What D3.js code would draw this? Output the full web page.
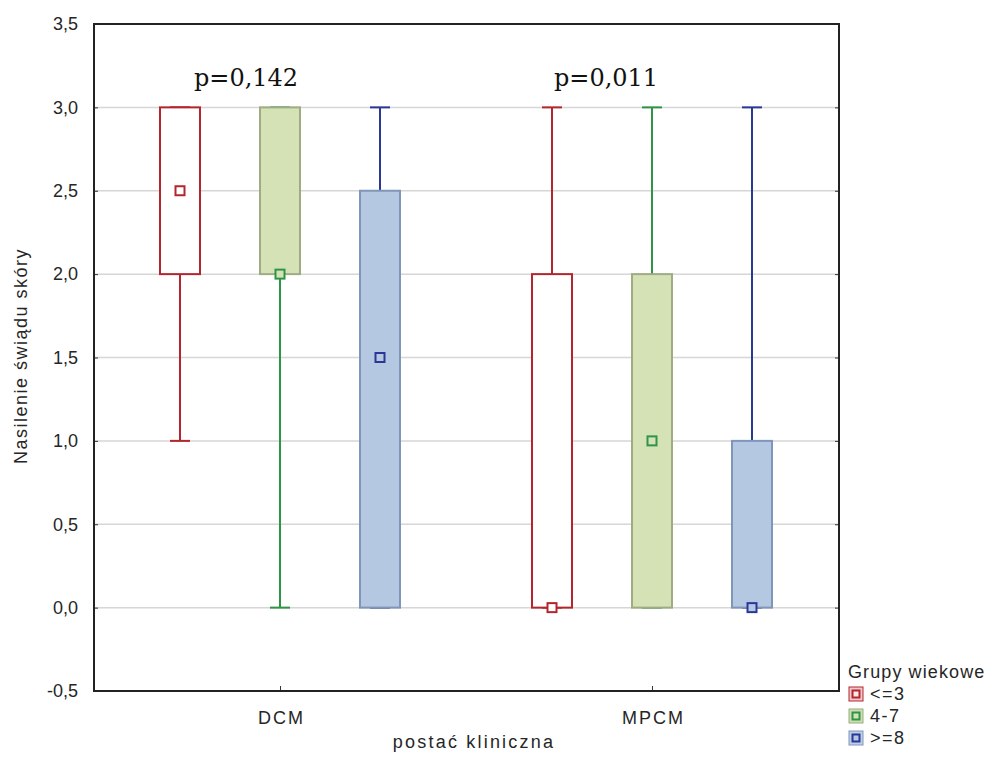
<!DOCTYPE html>
<html><head><meta charset="utf-8">
<script src="https://cdn.jsdelivr.net/npm/d3@7"></script>
<style>body{margin:0;background:#fff}svg{display:block}</style>
</head><body><svg id="c" width="986" height="760"></svg>
<script>
const categories = ["DCM", "MPCM"];
const groups = ["<=3", "4-7", ">=8"];
// per category, per group: [whiskerLow, boxLow, median, boxHigh, whiskerHigh]
const dcmStats = [[1, 2, 2.5, 3, 3], [0, 2, 2, 3, 3], [0, 0, 1.5, 2.5, 3]];
const mpcmStats = [[0, 0, 0, 2, 3], [0, 0, 1, 2, 3], [0, 0, 0, 1, 3]];
const pValues = ["p=0,142", "p=0,011"];
const yTicks = [-0.5, 0, 0.5, 1, 1.5, 2, 2.5, 3, 3.5];

const stats = [dcmStats, mpcmStats];
const stroke = ["#b3262d", "#2e9446", "#2b3796"];
const boxFill = ["#ffffff", "#d5e2b6", "#b5c8e1"];
const boxStroke = ["#b3262d", "#9eab85", "#8096b9"];
const markFill = ["#ffffff", "#d5e2b6", "#b5c8e1"];
const legFill = ["#f0c8cc", "#c9e0b0", "#bccfe8"];
const pShift = [-34, -46];

const svg = d3.select("#c");
const L = 94, R = 839, T = 24, B = 691;
const y = d3.scaleLinear().domain([-0.5, 3.5]).range([B, T]);
const x = d3.scalePoint().domain(categories).range([280, 652]);
const xo = d3.scalePoint().domain(groups).range([-100, 100]);
const font = "Arial, 'Liberation Sans', sans-serif";
const txt = "#262626";

// grid
svg.append("g").selectAll("line").data(yTicks.filter(t => t > -0.5 && t < 3.5)).join("line")
  .attr("x1", L).attr("x2", R).attr("y1", d => y(d)).attr("y2", d => y(d))
  .attr("stroke", "#d6d6d6").attr("stroke-width", 1.5);

// y axes with inward ticks
const fmt = d => d3.format(".1f")(d).replace(".", ",").replace("\u2212", "-");
const ya = svg.append("g").attr("transform", `translate(${L},0)`)
  .call(d3.axisLeft(y).tickValues(yTicks).tickSize(-4).tickPadding(16).tickFormat(fmt));
ya.select(".domain").remove();
ya.selectAll("line").attr("stroke", "#333");
ya.selectAll("text").attr("font-family", font).attr("font-size", 18).attr("fill", txt);
const yr = svg.append("g").attr("transform", `translate(${R},0)`)
  .call(d3.axisRight(y).tickValues(yTicks).tickSize(-4).tickFormat(""));
yr.select(".domain").remove();
yr.selectAll("line").attr("stroke", "#333");

// x axis
const xa = svg.append("g").attr("transform", `translate(0,${B})`)
  .call(d3.axisBottom(x).tickSize(-5).tickPadding(0));
xa.select(".domain").remove();
xa.selectAll("line").attr("stroke", "#333");
xa.selectAll("text").attr("dy", null).attr("y", 33).attr("dx", 1)
  .attr("font-family", font).attr("font-size", 18).attr("letter-spacing", 2).attr("fill", txt);

// frame
svg.append("rect").attr("x", L).attr("y", T).attr("width", R - L).attr("height", B - T)
  .attr("fill", "none").attr("stroke", "#222").attr("stroke-width", 2);

// boxes
const bw = 40, cw = 20, ms = 9;
categories.forEach((c, ci) => {
  groups.forEach((g, gi) => {
    const s = stats[ci][gi];
    const cx = x(c) + xo(g);
    const gg = svg.append("g");
    gg.append("line").attr("x1", cx).attr("x2", cx).attr("y1", y(s[0])).attr("y2", y(s[4]))
      .attr("stroke", stroke[gi]).attr("stroke-width", 2);
    [s[0], s[4]].forEach(v => gg.append("line").attr("x1", cx - cw / 2).attr("x2", cx + cw / 2)
      .attr("y1", y(v)).attr("y2", y(v)).attr("stroke", stroke[gi]).attr("stroke-width", 2));
    gg.append("rect").attr("x", cx - bw / 2).attr("width", bw)
      .attr("y", y(s[3])).attr("height", y(s[1]) - y(s[3]))
      .attr("fill", boxFill[gi]).attr("stroke", boxStroke[gi]).attr("stroke-width", 2);
    gg.append("rect").attr("x", cx - ms / 2).attr("y", y(s[2]) - ms / 2).attr("width", ms).attr("height", ms)
      .attr("fill", markFill[gi]).attr("stroke", stroke[gi]).attr("stroke-width", 2);
  });
  svg.append("text").attr("x", x(c) + pShift[ci]).attr("y", 86).attr("text-anchor", "middle")
    .attr("font-family", "'DejaVu Serif', 'Liberation Serif', serif").attr("font-size", 24)
    .attr("fill", "#111").text(pValues[ci]);
});

// axis titles
svg.append("text").attr("transform", `translate(27,${356}) rotate(-90)`)
  .attr("text-anchor", "middle").attr("font-family", font).attr("font-size", 18).attr("fill", txt)
  .attr("letter-spacing", 1.5).text("Nasilenie świądu skóry");
svg.append("text").attr("x", 474).attr("y", 748).attr("text-anchor", "middle")
  .attr("font-family", font).attr("font-size", 18).attr("fill", txt).attr("letter-spacing", 2.2)
  .text("postać kliniczna");

// legend
const lg = svg.append("g").attr("transform", "translate(848,0)");
lg.append("text").attr("x", 0).attr("y", 678).attr("font-family", font).attr("font-size", 18).attr("fill", txt)
  .attr("letter-spacing", 1.1).text("Grupy wiekowe");
groups.forEach((g, gi) => {
  const cy = 694 + gi * 22;
  lg.append("rect").attr("x", 1).attr("y", cy - 7).attr("width", 14).attr("height", 14)
    .attr("fill", legFill[gi]).attr("stroke", boxStroke[gi]).attr("stroke-width", 1);
  lg.append("rect").attr("x", 4.5).attr("y", cy - 3.5).attr("width", 7).attr("height", 7)
    .attr("fill", markFill[gi] === "#ffffff" ? "#fbe8ea" : markFill[gi]).attr("stroke", stroke[gi]).attr("stroke-width", 2);
  lg.append("text").attr("x", 22).attr("y", cy + 6).attr("font-family", font).attr("font-size", 18).attr("fill", txt)
    .attr("letter-spacing", 1.5).text(g);
});
</script></body></html>
